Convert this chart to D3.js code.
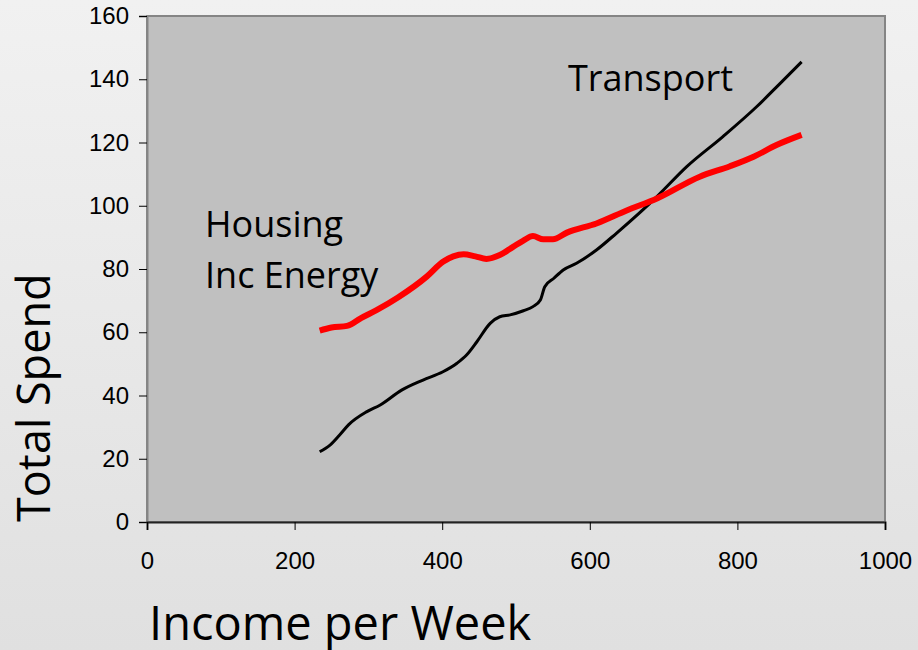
<!DOCTYPE html>
<html>
<head>
<meta charset="utf-8">
<script src="https://cdn.jsdelivr.net/npm/d3@7"></script>
<style>
  body { margin: 0; }
  svg { display: block; }
</style>
</head>
<body>
<svg width="918" height="650"></svg>
<script>
// Housing inc energy (red) — income per week vs total spend
const housingIncome = [234, 250, 271, 290, 311, 340, 379, 401, 415, 429, 445, 460, 478, 496, 510, 523, 537, 550, 569, 609, 650, 691, 749, 790, 822, 853, 887];
const housingSpend = [60.5, 61.5, 62, 64.5, 67, 71, 77.6, 82.3, 84, 84.7, 84, 83.2, 84.4, 87, 89, 90.4, 89.4, 89.4, 91.5, 94.4, 98.5, 102.3, 109.2, 112.5, 115.5, 119.2, 122.4];

// Transport (black)
const transportIncome = [234, 248, 261, 273, 298, 316, 345, 374, 401, 420, 433, 447, 465, 478, 492, 510, 523, 533, 539, 551, 564, 582, 609, 636, 691, 731, 780, 826, 858, 887];
const transportSpend = [22.2, 24.3, 27.5, 30.7, 34.9, 37, 41.7, 44.9, 47.5, 50.2, 52.8, 57, 62.8, 64.9, 65.5, 66.8, 68.1, 70.2, 74.4, 77, 79.7, 81.8, 86, 91.3, 102.9, 112.3, 121.8, 131.3, 138.7, 145.5];

const xTicks = [0, 200, 400, 600, 800, 1000];
const yTicks = [0, 20, 40, 60, 80, 100, 120, 140, 160];

const svg = d3.select('svg');
const width = parseFloat(svg.attr('width'));
const height = parseFloat(svg.attr('height'));
const margin = { top: 16, right: 33, bottom: 128, left: 147 };
const innerWidth = width - margin.left - margin.right;
const innerHeight = height - margin.top - margin.bottom;

// page background
const grad = svg.append('defs').append('linearGradient')
  .attr('id', 'bg').attr('x1', 0).attr('y1', 0).attr('x2', 0).attr('y2', 1);
grad.append('stop').attr('offset', '0%').attr('stop-color', '#f1f1f1');
grad.append('stop').attr('offset', '100%').attr('stop-color', '#e0e0e0');
svg.append('rect').attr('width', width).attr('height', height).attr('fill', 'url(#bg)');

const xScale = d3.scaleLinear().domain([0, 1000]).range([0, innerWidth]);
const yScale = d3.scaleLinear().domain([0, 160]).range([innerHeight, 0]);

const g = svg.append('g')
  .attr('transform', `translate(${margin.left}, ${margin.top})`);

g.append('rect')
  .attr('width', innerWidth)
  .attr('height', innerHeight)
  .attr('fill', '#c0c0c0')
  .attr('stroke', '#858585')
  .attr('stroke-width', 2);

const yAxis = d3.axisLeft(yScale).tickValues(yTicks).tickSize(8).tickPadding(10)
  .tickFormat(d3.format('d'));
const yg = g.append('g').call(yAxis);
yg.select('.domain').attr('stroke', '#858585').attr('stroke-width', 2);

const xAxis = d3.axisBottom(xScale).tickValues(xTicks).tickSize(8).tickPadding(22)
  .tickFormat(d3.format('d'));
const xg = g.append('g').attr('transform', `translate(0, ${innerHeight})`).call(xAxis);
xg.select('.domain').attr('stroke', '#222').attr('stroke-width', 2);

g.selectAll('.tick line').attr('stroke', '#000');
g.selectAll('.tick text')
  .attr('font-family', '"Liberation Sans", Arial, sans-serif')
  .attr('font-size', 24)
  .attr('fill', '#000');

const line = d3.line()
  .x((d) => xScale(d[0]))
  .y((d) => yScale(d[1]))
  .curve(d3.curveMonotoneX);

const housing = housingIncome.map((x, i) => [x, housingSpend[i]]);
const transport = transportIncome.map((x, i) => [x, transportSpend[i]]);

g.append('path')
  .datum(transport)
  .attr('fill', 'none')
  .attr('stroke', '#000')
  .attr('stroke-width', 3)
  .attr('d', line);

g.append('path')
  .datum(housing)
  .attr('fill', 'none')
  .attr('stroke', '#ff0000')
  .attr('stroke-width', 6)
  .attr('d', line);

const labelFont = '"Open Sans", "Noto Sans", sans-serif';

svg.append('text')
  .attr('x', 568).attr('y', 91)
  .attr('font-family', labelFont).attr('font-size', 36)
  .text('Transport');

svg.append('text')
  .attr('x', 205).attr('y', 237)
  .attr('font-family', labelFont).attr('font-size', 36)
  .text('Housing');

svg.append('text')
  .attr('x', 205).attr('y', 288)
  .attr('font-family', labelFont).attr('font-size', 36)
  .text('Inc Energy');

svg.append('text')
  .attr('x', 149).attr('y', 640)
  .attr('font-family', labelFont).attr('font-size', 47)
  .text('Income per Week');

svg.append('text')
  .attr('transform', 'translate(50, 522) rotate(-90)')
  .attr('font-family', labelFont).attr('font-size', 45)
  .text('Total Spend');
</script>
</body>
</html>
